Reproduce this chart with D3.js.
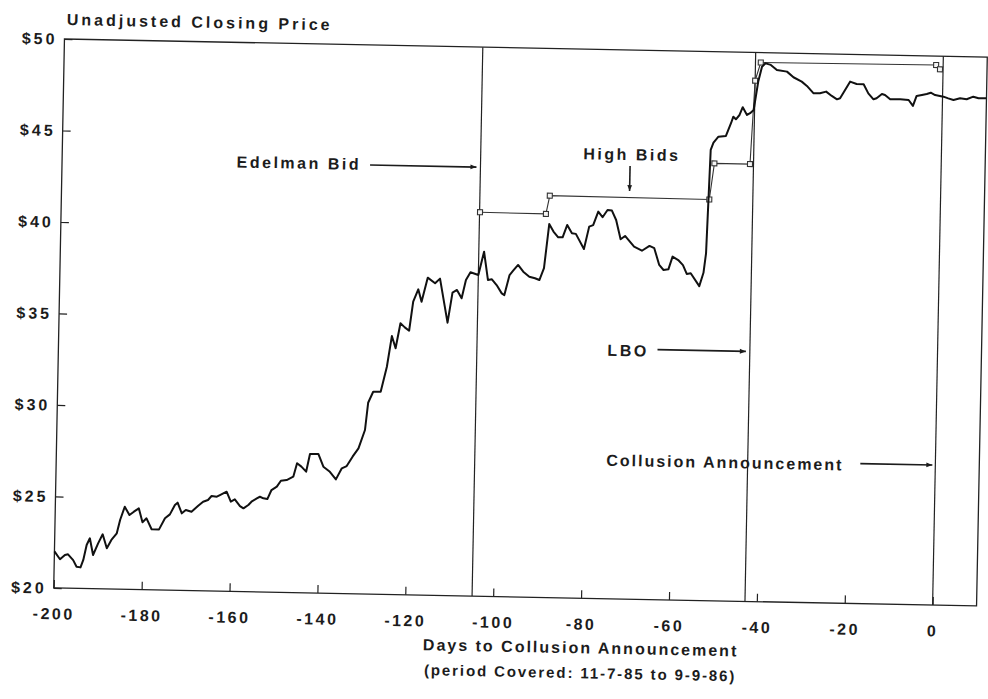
<!DOCTYPE html>
<html><head><meta charset="utf-8">
<script src="https://cdn.jsdelivr.net/npm/d3@7"></script>
<style>
body{margin:0;background:#fff}
text{font-family:"Liberation Sans",Arial,sans-serif;font-weight:bold;fill:#1c1c1c}
</style></head>
<body><svg id="c" width="988" height="699"></svg>
<script>
// ---- data ----
const days = [-200,-198.7,-197.6,-196.9,-195.7,-194.9,-194.0,-193.4,-192.7,-192.0,-191.2,-190.1,-189.1,-188.1,-187.1,-185.9,-185.2,-184.2,-183.1,-182.1,-181.0,-180.1,-179.2,-178.0,-176.3,-175.0,-173.9,-172.8,-172.2,-171.2,-170.3,-169.0,-167.5,-166.4,-165.3,-164.5,-163.3,-162.6,-161.1,-160.1,-159.2,-158.0,-157.2,-156.1,-155.4,-154.2,-153.5,-152.7,-151.8,-150.9,-149.7,-148.8,-147.5,-146.0,-145.2,-144.2,-143.1,-142.3,-140.4,-139.2,-137.7,-136.3,-135.0,-133.9,-132.6,-131.3,-129.9,-129.3,-128.2,-126.5,-125.2,-124.2,-123.3,-122.3,-121.3,-120.3,-119.5,-118.4,-117.6,-116.3,-114.6,-113.5,-111.6,-110.6,-109.6,-108.5,-107.6,-106.6,-104.8,-103.6,-102.6,-101.7,-100.6,-99.4,-98.8,-97.7,-96.9,-95.8,-94.6,-93.2,-91.9,-90.9,-89.9,-88.9,-87.9,-86.8,-85.8,-84.8,-83.7,-82.8,-80.9,-79.8,-78.9,-77.8,-76.8,-75.7,-74.7,-73.7,-72.6,-71.6,-69.5,-67.7,-66.0,-64.9,-63.7,-62.7,-61.6,-60.7,-59.4,-58.3,-57.4,-56.5,-54.5,-53.6,-53.1,-52.5,-51.9,-50.8,-49.1,-48.0,-47.5,-46.9,-46.1,-45.4,-44.4,-43.7,-42.9,-42.0,-41.2,-40.4,-39.2,-37.8,-35.5,-34.0,-32.1,-30.9,-29.4,-27.9,-26.5,-25.2,-24.0,-23.3,-21.1,-19.6,-18.0,-16.9,-15.7,-15.0,-13.8,-13.1,-11.9,-9.6,-7.7,-6.7,-5.9,-4.7,-3.6,-2.7,-1.7,0.2,1.3,2.5,4.0,5.5,7.0,8.2,10.0];
const prices = [22.0,21.57,21.81,21.85,21.54,21.18,21.15,21.56,22.38,22.75,21.84,22.48,22.98,22.22,22.68,23.05,23.78,24.51,24.06,24.25,24.44,23.68,23.90,23.31,23.31,23.92,24.14,24.66,24.79,24.21,24.40,24.31,24.64,24.87,24.97,25.19,25.16,25.25,25.44,24.90,25.03,24.67,24.55,24.74,24.92,25.11,25.20,25.12,25.08,25.58,25.77,26.10,26.14,26.33,27.07,26.89,26.62,27.59,27.60,26.91,26.64,26.23,26.84,26.97,27.49,27.95,28.96,30.45,31.06,31.07,32.44,34.12,33.46,34.83,34.61,34.43,36.02,36.70,36.03,37.35,37.05,37.31,34.91,36.56,36.71,36.26,37.26,37.69,37.55,38.83,37.29,37.33,37.02,36.57,36.48,37.58,37.82,38.14,37.78,37.51,37.43,37.34,37.99,40.41,40.00,39.69,39.70,40.38,39.93,39.90,39.08,40.31,40.40,41.14,40.84,41.24,41.21,40.70,39.65,39.84,39.26,39.05,39.32,39.20,38.29,38.02,38.06,38.76,38.58,38.31,37.83,37.87,37.18,37.91,38.98,44.63,45.03,45.36,45.41,46.11,46.47,46.33,46.57,47.00,46.58,46.68,46.86,48.40,49.23,49.42,49.34,49.07,48.99,48.69,48.46,48.23,47.84,47.84,47.94,47.71,47.53,47.59,48.51,48.39,48.38,47.89,47.57,47.63,47.87,47.82,47.59,47.60,47.57,47.25,47.80,47.86,47.92,47.99,47.87,47.79,47.70,47.62,47.72,47.67,47.82,47.74,47.75];

const bidDays   = [-104.7,-89.7,-88.9,-52.6,-51.6,-43.5,-42.7,-41.5,-1.6,-0.7];
const bidPrices = [40.98,40.96,41.96,41.92,43.90,43.90,48.46,49.46,49.51,49.28];

const xTicks = [-200,-180,-160,-140,-120,-100,-80,-60,-40,-20,0];
const yTicks = [20,25,30,35,40,45,50];

const eventNames = ["Edelman Bid","LBO","Collusion Announcement"];
const eventDays  = [-104.8,-42.7,0];

const titleY = "Unadjusted Closing Price";
const titleX = "Days to Collusion Announcement";
const subtitleX = "(period Covered:  11-7-85 to 9-9-86)";

// ---- layout ----
const L = 59, R = 982, T = 48, B = 597;
const svg = d3.select("#c");
const g = svg.append("g").attr("transform","rotate(1.12,521.5,322.5)");

const x = d3.scaleLinear().domain([-200,10]).range([L,R]);
const y = d3.scaleLinear().domain([20,50]).range([B,T]);

const defs = svg.append("defs");
defs.append("marker").attr("id","ah").attr("viewBox","0 0 10 10")
  .attr("refX",10).attr("refY",5).attr("markerWidth",7).attr("markerHeight",6)
  .attr("orient","auto-start-reverse").attr("markerUnits","userSpaceOnUse")
  .append("path").attr("d","M0,1 L10,5 L0,9 Z").attr("fill","#1c1c1c");

// frame
g.append("rect").attr("x",L).attr("y",T).attr("width",R-L).attr("height",B-T)
  .attr("fill","none").attr("stroke","#222").attr("stroke-width",1.3);

// axes
const fs = "16px", ls = "2.5px";
const xa = g.append("g").attr("transform",`translate(0,${B})`)
  .call(d3.axisBottom(x).tickValues(xTicks).tickSize(-8).tickPadding(20).tickFormat(d=>String(d)));
xa.select(".domain").remove();
xa.selectAll("line").attr("stroke","#222").attr("stroke-width",1.2);
xa.selectAll("text").attr("font-size",fs).attr("letter-spacing",ls).attr("fill","#1c1c1c")
  .attr("font-family",'"Liberation Sans",Arial,sans-serif');

const ya = g.append("g").attr("transform",`translate(${L},0)`)
  .call(d3.axisLeft(y).tickValues(yTicks).tickSize(-8).tickPadding(7).tickFormat(d=>"$"+d));
ya.select(".domain").remove();
ya.selectAll("line").attr("stroke","#222").attr("stroke-width",1.2);
ya.selectAll("text").attr("font-size",fs).attr("letter-spacing","3px").attr("fill","#1c1c1c")
  .attr("font-family",'"Liberation Sans",Arial,sans-serif');

// event lines
g.selectAll(".ev").data(eventDays).join("line").attr("class","ev")
  .attr("x1",d=>x(d)).attr("x2",d=>x(d)).attr("y1",T).attr("y2",B)
  .attr("stroke","#222").attr("stroke-width",1.2);

// bid line + markers
const line = d3.line().x(d=>x(d[0])).y(d=>y(d[1]));
const bids = bidDays.map((d,i)=>[d,bidPrices[i]]);
g.append("path").datum(bids).attr("d",line).attr("fill","none")
  .attr("stroke","#333").attr("stroke-width",1.1);
g.selectAll(".bm").data(bids).join("rect").attr("class","bm")
  .attr("x",d=>x(d[0])-2.5).attr("y",d=>y(d[1])-2.5).attr("width",5).attr("height",5)
  .attr("fill","#f4f4f4").attr("stroke","#333").attr("stroke-width",1.1);

// price line
const pts = days.map((d,i)=>[d,prices[i]]);
g.append("path").datum(pts).attr("d",line).attr("fill","none")
  .attr("stroke","#111").attr("stroke-width",2).attr("stroke-linejoin","round");

// titles
g.append("text").attr("x",L+2).attr("y",34).attr("font-size",fs).attr("letter-spacing","3px").text(titleY);
g.append("text").attr("x",587).attr("y",652).attr("text-anchor","middle").attr("font-size",fs).attr("letter-spacing","2px").text(titleX);
g.append("text").attr("x",587).attr("y",677).attr("text-anchor","middle").attr("font-size","15px").attr("letter-spacing","1.9px").text(subtitleX);

// annotations
function arrow(x1,y1,x2,y2){
  g.append("line").attr("x1",x1).attr("y1",y1).attr("x2",x2).attr("y2",y2)
   .attr("stroke","#1c1c1c").attr("stroke-width",1.6).attr("marker-end","url(#ah)");
}
g.append("text").attr("x",358).attr("y",173).attr("text-anchor","end").attr("font-size",fs).attr("letter-spacing",ls).text(eventNames[0]);
arrow(367,168,x(eventDays[0])-4,168);
g.append("text").attr("x",580).attr("y",158).attr("font-size",fs).attr("letter-spacing",ls).text("High Bids");
arrow(627,164,627,189);
g.append("text").attr("x",608).attr("y",354).attr("font-size",fs).attr("letter-spacing",ls).text(eventNames[1]);
arrow(658,347,x(eventDays[1])-4,347);
g.append("text").attr("x",609).attr("y",464).attr("font-size",fs).attr("letter-spacing","2px").text(eventNames[2]);
arrow(863,457,x(eventDays[2])-3,457);
</script></body></html>
